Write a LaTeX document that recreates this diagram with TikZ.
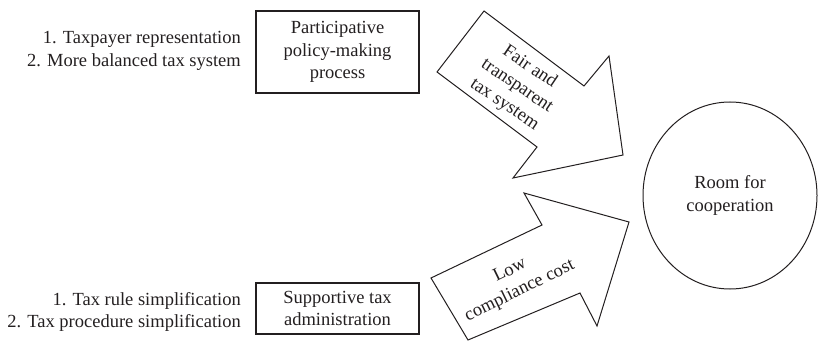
\documentclass[tikz,border=0pt]{standalone}
\usepackage{fontspec}
\setmainfont{Liberation Serif}
\newfontfamily\timesfont{Liberation Serif}
\usetikzlibrary{shapes.geometric}
\definecolor{ink}{RGB}{35,31,32}
\begin{document}
\begin{tikzpicture}[x=1pt,y=-1pt,
  every node/.style={text=ink,font=\timesfont\fontsize{18.5}{22.5}\selectfont},
  boxnode/.style={draw=ink,line width=1.3pt,minimum width=163pt,align=center,inner sep=0pt},
  listtext/.style={align=right,anchor=east,inner sep=0pt},
  arrowshape/.style={draw=ink,line width=1pt,line join=miter,fill=white},
  arrowtext/.style={align=center,inner sep=0pt}]
\useasboundingbox (0,0) rectangle (818,350);
% left lists
\node[listtext] (l1) at (241,51) {1. Taxpayer representation\\2. More balanced tax system};
\node[listtext] (l2) at (241,312) {1. Tax rule simplification\\2. Tax procedure simplification};
% boxes
\node[boxnode,minimum height=82pt] (b1) at (337.5,52) {Participative\\policy-making\\process};
\node[boxnode,minimum height=51pt] (b2) at (337.5,308.5) {Supportive tax\\administration};
% circle
\node[draw=ink,line width=1pt,ellipse,minimum width=174pt,minimum height=187pt,inner sep=0pt,align=center] (c) at (730,195.5) {Room for\\cooperation};
% top arrow
\draw[arrowshape] (484,11) -- (584,86) -- (609,56) -- (623,155) -- (513,178) -- (537,147) -- (437,72) -- cycle;
\node[arrowtext,rotate=-34] (t1) at (517,86) {Fair and\\transparent\\tax system};
% bottom arrow
\draw[arrowshape] (431,278) -- (542,225) -- (524,193) -- (629,222) -- (597,326) -- (580,293) -- (468,340) -- cycle;
\node[arrowtext,rotate=26] (t2) at (515,281) {Low\\compliance cost};
\end{tikzpicture}
\end{document}
